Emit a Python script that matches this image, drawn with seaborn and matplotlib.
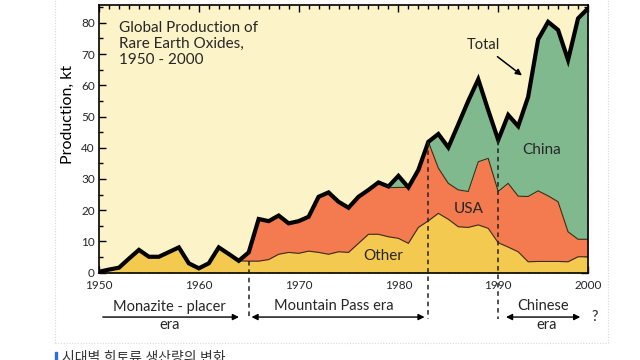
import matplotlib
matplotlib.use("Agg")
import matplotlib.pyplot as plt
import seaborn as sns
from matplotlib.ticker import MultipleLocator
from matplotlib.lines import Line2D
from matplotlib.patches import Rectangle

# Global production of rare earth oxides, kt
years = list(range(1950, 2000))

total = [0.3, 1.0, 1.6, 4.5, 7.3, 5.1, 5.1, 6.6, 8.1, 3.0,
         1.4, 3.0, 8.1, 6.0, 3.8, 6.5, 17.2, 16.5, 18.3, 15.8,
         16.5, 17.9, 24.3, 25.7, 22.7, 20.8, 24.3, 26.5, 28.9, 27.6,
         31.0, 27.3, 32.9, 41.9, 44.4, 40.1, 47.5, 55.0, 61.9, 52.0,
         42.5, 50.5, 46.9, 56.3, 74.7, 80.3, 77.7, 68.1, 81.4, 84.6]

# top of the "Other" band
other = [0.3, 1.0, 1.6, 4.5, 7.3, 5.1, 5.1, 6.6, 8.1, 3.0,
         1.4, 3.0, 8.1, 6.0, 3.8, 3.7, 3.7, 4.2, 5.9, 6.5,
         6.2, 6.9, 6.5, 5.9, 6.7, 6.5, 9.4, 12.3, 12.3, 11.5,
         11.0, 9.4, 14.5, 16.6, 19.0, 17.1, 14.7, 14.5, 15.3, 14.2,
         9.6, 8.2, 6.7, 3.5, 3.6, 3.6, 3.6, 3.5, 5.1, 5.1]

# top of the "USA" band (Other + USA); above it is China
usa_top = [0.3, 1.0, 1.6, 4.5, 7.3, 5.1, 5.1, 6.6, 8.1, 3.0,
           1.4, 3.0, 8.1, 6.0, 3.8, 6.5, 17.2, 16.5, 18.3, 15.8,
           16.5, 17.9, 24.3, 25.7, 22.7, 20.8, 24.3, 26.5, 28.9, 27.2,
           27.3, 27.3, 32.9, 41.9, 33.5, 28.6, 26.5, 26.0, 35.5, 36.6,
           26.0, 28.6, 24.5, 24.4, 26.2, 24.6, 22.7, 13.1, 10.7, 10.7]

era_years = [1965, 1983, 1990]
x_ticks = [1950, 1960, 1970, 1980, 1990, 1999]
x_tick_labels = ["1950", "1960", "1970", "1980", "1990", "2000"]
y_ticks = list(range(0, 81, 10))

c_other = "#f4c94f"
c_usa = "#f47a50"
c_china = "#7fb98d"

sns.set_theme(style="ticks")
plt.rcParams["font.family"] = ["Lato", "Noto Sans CJK KR", "DejaVu Sans"]

fig = plt.figure(figsize=(6.4, 3.6), dpi=100)
ax = fig.add_axes([0.1547, 0.2425, 0.7641, 0.7436])
ax.set_facecolor("#fdf3c8")

# stacked bands
ax.fill_between(years, 0, other, color=c_other, lw=0)
ax.fill_between(years, other, usa_top, color=c_usa, lw=0)
ax.fill_between(years, usa_top, total, color=c_china, lw=0)
sns.lineplot(x=years, y=other, color="#3b2c14", linewidth=0.8, ax=ax)
sns.lineplot(x=years, y=usa_top, color="#3b2c14", linewidth=0.8, ax=ax)
sns.lineplot(x=years, y=total, color="black", linewidth=3.0, ax=ax,
             solid_joinstyle="miter")

ax.set_xlim(1950, 1999)
ax.set_ylim(0, 85.7)
ax.set_xticks(x_ticks)
ax.set_xticklabels(x_tick_labels)
ax.set_yticks(y_ticks)
ax.xaxis.set_minor_locator(MultipleLocator(1))
ax.yaxis.set_minor_locator(MultipleLocator(5))
ax.tick_params(which="both", direction="in", top=True, right=True,
               labelsize=8.5, color="black", width=1, pad=3)
ax.tick_params(axis="x", pad=5)
ax.tick_params(which="major", length=5)
ax.tick_params(which="minor", length=3)
for sp in ax.spines.values():
    sp.set_color("black")
    sp.set_linewidth(1.2)
ax.set_xlabel("")
ax.set_ylabel("Production, kt", fontsize=11.5, color="black")
ax.yaxis.set_label_coords(-0.049, 0.59)

# era dividers
tops = [other[years.index(era_years[0])],
        total[years.index(era_years[1])],
        total[years.index(era_years[2])]]
for yr, top in zip(era_years, tops):
    ax.plot([yr, yr], [top, -14.7], color="#222222", lw=1.1,
            linestyle=(0, (3, 2.5)), clip_on=False, zorder=5)

# labels inside the chart
ax.text(1952.0, 80.6, "Global Production of\nRare Earth Oxides,\n1950 - 2000",
        ha="left", va="top", fontsize=11, linespacing=1.2)
ax.text(1988.5, 72.9, "Total", ha="center", va="center", fontsize=10.5)
ax.annotate("", xy=(1992.6, 62.6), xytext=(1989.7, 69.7),
            arrowprops=dict(arrowstyle="-|>", color="black", lw=1.1,
                            mutation_scale=9))
ax.text(1994.3, 39.3, "China", ha="center", va="center", fontsize=11)
ax.text(1987.0, 20.4, "USA", ha="center", va="center", fontsize=11)
ax.text(1978.5, 5.3, "Other", ha="center", va="center", fontsize=11)

# era annotations under the axis
arr_y = -14.2
ax.annotate("", xy=(1964.3, arr_y), xytext=(1950.1, arr_y),
            arrowprops=dict(arrowstyle="-|>", color="black", lw=1,
                            mutation_scale=9), annotation_clip=False)
ax.annotate("", xy=(1982.9, arr_y), xytext=(1965.0, arr_y),
            arrowprops=dict(arrowstyle="<|-|>", color="black", lw=1,
                            mutation_scale=9), annotation_clip=False)
ax.annotate("", xy=(1998.5, arr_y), xytext=(1990.5, arr_y),
            arrowprops=dict(arrowstyle="<|-|>", color="black", lw=1,
                            mutation_scale=9), annotation_clip=False)
ax.text(1957.1, -10.9, "Monazite - placer", ha="center", va="center",
        fontsize=10.5, clip_on=False)
ax.text(1957.1, -16.8, "era", ha="center", va="center", fontsize=10.5,
        clip_on=False)
ax.text(1973.5, -10.7, "Mountain Pass era", ha="center", va="center",
        fontsize=10.5, clip_on=False)
ax.text(1994.5, -10.7, "Chinese", ha="center", va="center", fontsize=10.5,
        clip_on=False)
ax.text(1994.9, -16.8, "era", ha="center", va="center", fontsize=10.5,
        clip_on=False)
ax.text(1999.7, -14.2, "?", ha="center", va="center", fontsize=10.5,
        clip_on=False)

# page frame and caption below the picture
frame_kw = dict(color="#d9d9d9", lw=0.8, linestyle=(0, (1, 1.5)),
                transform=fig.transFigure)
fig.add_artist(Line2D([55 / 640, 55 / 640], [17 / 360, 1], **frame_kw))
fig.add_artist(Line2D([608 / 640, 608 / 640], [17 / 360, 1], **frame_kw))
fig.add_artist(Line2D([55 / 640, 608 / 640], [17 / 360, 17 / 360], **frame_kw))
fig.add_artist(Rectangle((55 / 640, 0), 2 / 640, 8 / 360, color="#2f6fd6",
                         transform=fig.transFigure))
fig.text(62 / 640, 9 / 360, "시대별 희토류 생산량의 변화", ha="left", va="top",
         fontsize=10, color="#333333")

fig.savefig("out.png", dpi=100)
